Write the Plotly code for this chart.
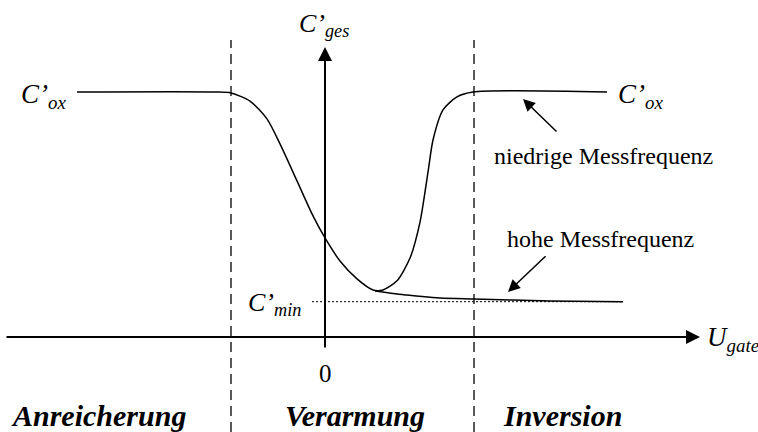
import plotly.graph_objects as go

# C'-U characteristic of an MOS capacitor (normalised units: C'ox = 1, U = 0 at origin)
u_low = [-2.48, -1.10, -0.94, -0.75, -0.58, -0.45, -0.28, -0.12, 0.00, 0.15, 0.32,
         0.48, 0.58, 0.72, 0.85, 0.95, 1.03, 1.08, 1.18, 1.32, 1.48, 2.82]
c_low = [1.000, 1.000, 0.996, 0.963, 0.890, 0.788, 0.637, 0.494, 0.404, 0.310, 0.237,
         0.192, 0.192, 0.229, 0.322, 0.469, 0.673, 0.804, 0.927, 0.980, 1.000, 1.000]

u_high = [0.50, 0.82, 1.15, 1.49, 2.25, 2.98]
c_high = [0.188, 0.171, 0.159, 0.155, 0.147, 0.144]

c_ox = 1.0
c_min = 0.144
u_min_line = [-0.13, 2.98]
region_bounds = [-0.94, 1.49]          # Anreicherung | Verarmung | Inversion
region_names = ["Anreicherung", "Verarmung", "Inversion"]
region_left = [-3.16, -0.42, 1.76]

X_RANGE = [-3.25, 4.33]
Y_RANGE = [-0.388, 1.3755]

SERIF = "Liberation Serif"
BLACK = "#000000"

fig = go.Figure()

# low and high frequency curves
fig.add_trace(go.Scatter(x=u_low, y=c_low, mode="lines",
                         line=dict(color=BLACK, width=1.5, shape="spline", smoothing=0.7),
                         hoverinfo="skip"))
fig.add_trace(go.Scatter(x=u_high, y=c_high, mode="lines",
                         line=dict(color=BLACK, width=1.5, shape="spline", smoothing=0.7),
                         hoverinfo="skip"))

# C'min reference (dotted)
fig.add_shape(type="line", xref="x", yref="y", x0=u_min_line[0], x1=u_min_line[1],
              y0=c_min, y1=c_min, line=dict(color=BLACK, width=1, dash="2px,2px"))

# region boundaries (dashed)
for xb in region_bounds:
    fig.add_shape(type="line", xref="x", yref="y", x0=xb, x1=xb, y0=Y_RANGE[0], y1=1.212,
                  line=dict(color=BLACK, width=1.3, dash="10px,6px"))

annotations = []

def arrow(tip, tail, width, size):
    annotations.append(dict(x=tip[0], y=tip[1], ax=tail[0], ay=tail[1],
                            xref="x", yref="y", axref="x", ayref="y", text="",
                            showarrow=True, arrowhead=2, arrowsize=size,
                            arrowwidth=width, arrowcolor=BLACK, standoff=0, startstandoff=0))

# coordinate axes
arrow((3.75, 0.0), (-3.20, 0.0), 2, 1.4)
arrow((0.0, 1.184), (0.0, -0.049), 2, 1.4)

# pointers to the two curves
arrow((1.98, 0.971), (2.33, 0.833), 1.5, 1.6)
arrow((1.83, 0.184), (2.22, 0.335), 1.5, 1.6)

def label(x, y, text, size, xanchor="center", yanchor="middle"):
    annotations.append(dict(x=x, y=y, xref="x", yref="y", text=text, showarrow=False,
                            xanchor=xanchor, yanchor=yanchor,
                            font=dict(family=SERIF, size=size, color=BLACK)))

label(-2.57, 0.985, "<i>C’<sub>ox</sub></i>", 27, xanchor="right")
label(2.91, 0.985, "<i>C’<sub>ox</sub></i>", 27, xanchor="left")
label(-0.01, 1.275, "<i>C’<sub>ges</sub></i>", 26)
label(-0.22, 0.135, "<i>C’<sub>min</sub></i>", 26, xanchor="right")
label(3.80, -0.01, "<i>U<sub>gate</sub></i>", 27, xanchor="left")
label(0.0, -0.15, "0", 25)
label(2.78, 0.74, "niedrige Messfrequenz", 24)
label(2.75, 0.40, "hohe Messfrequenz", 24)

for name, xl in zip(region_names, region_left):
    label(xl, -0.32, "<b><i>" + name + "</i></b>", 30, xanchor="left")

fig.update_layout(
    width=758, height=432,
    margin=dict(l=0, r=0, t=0, b=0),
    paper_bgcolor="white", plot_bgcolor="white",
    showlegend=False,
    annotations=annotations,
    xaxis=dict(range=X_RANGE, visible=False, fixedrange=True),
    yaxis=dict(range=Y_RANGE, visible=False, fixedrange=True),
)

fig.write_html("out.html")
